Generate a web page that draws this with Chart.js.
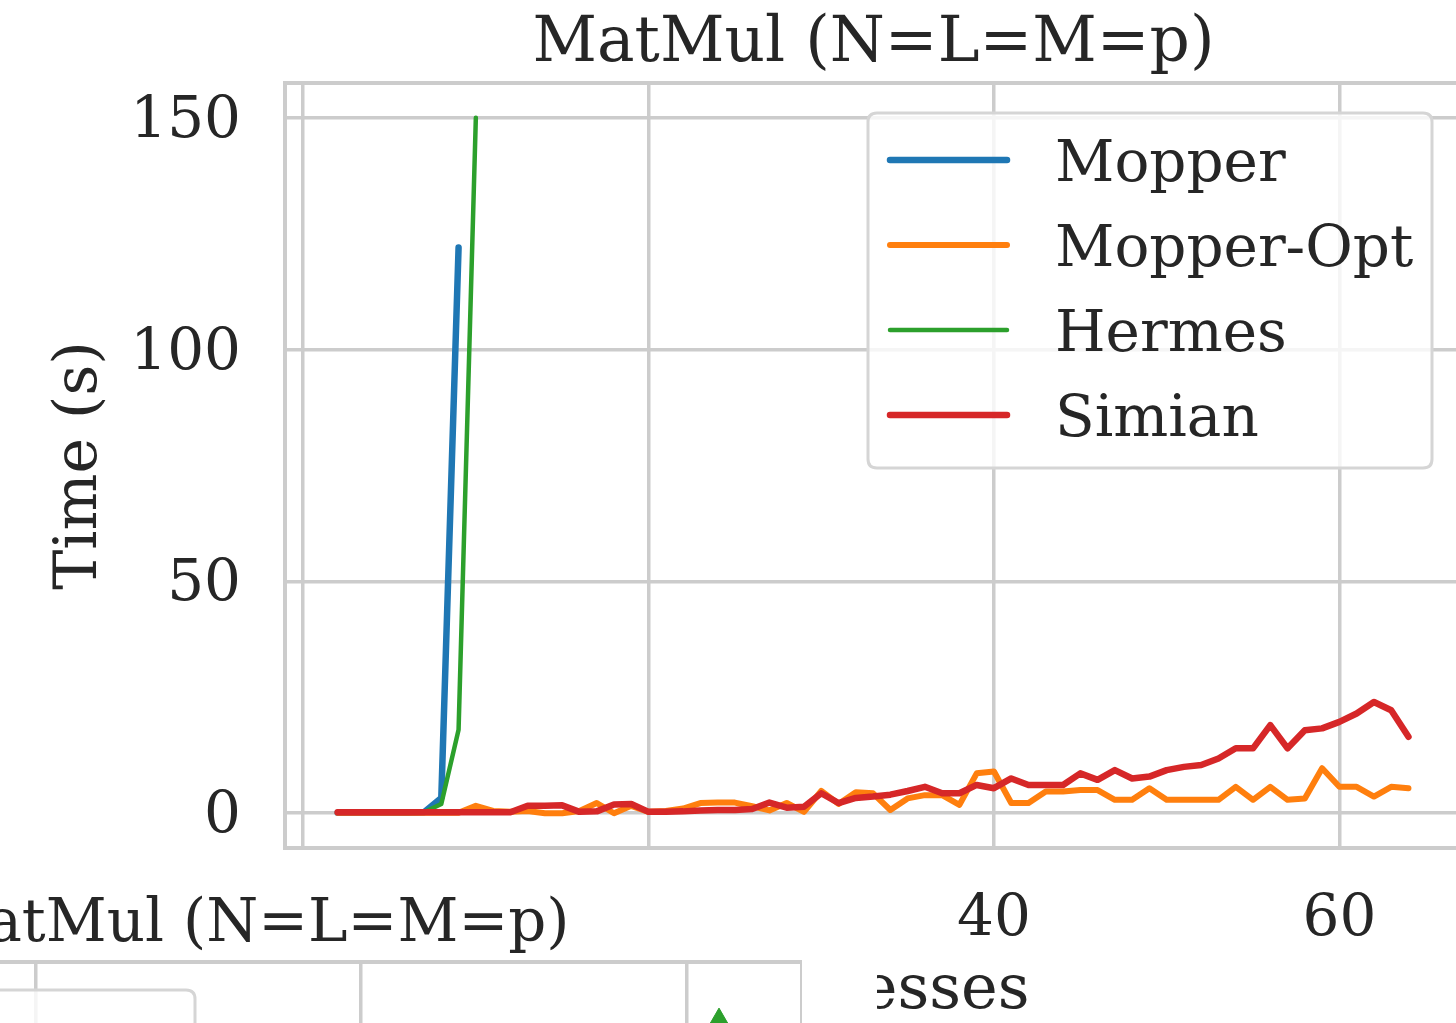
<!DOCTYPE html>
<html><head><meta charset="utf-8">
<script src="https://cdn.jsdelivr.net/npm/chart.js@4.4.1/dist/chart.umd.min.js"></script>
<style>
html,body{margin:0;padding:0;background:#fff;overflow:hidden;width:1456px;height:1023px;}
#main{position:absolute;left:0;top:0;}
#overlay{position:absolute;left:0;top:856px;width:877px;height:167px;background:#fff;overflow:hidden;}
#sub{position:absolute;left:-354px;top:0;}
</style></head><body>
<canvas id="main" width="1462" height="1023"></canvas>
<div id="overlay"><canvas id="sub" width="1156" height="1046"></canvas></div>
<script>
// ---------- data ----------
const chartTitle = 'MatMul (N=L=M=p)';
const xTitle = 'Processes';
const yTitle = 'Time (s)';
const xTicks = [0, 20, 40, 60];
const yTicks = [0, 50, 100, 150];
const seriesNames = ['Mopper', 'Mopper-Opt', 'Hermes', 'Simian'];
const processes = [2,3,4,5,6,7,8,9,10,11,12,13,14,15,16,17,18,19,20,21,22,23,24,25,26,27,28,29,30,31,32,33,34,35,36,37,38,39,40,41,42,43,44,45,46,47,48,49,50,51,52,53,54,55,56,57,58,59,60,61,62,63,64];
const mopper = [0.1,0.1,0.1,0.1,0.1,0.2,3.3,122];
const mopperOpt = [0.1,0.1,0.1,0.1,0.1,0.1,0.1,0.1,1.6,0.5,0.3,0.5,0.0,0.0,0.5,2.2,0.0,1.6,0.3,0.5,1.0,2.2,2.3,2.3,1.5,0.6,2.2,0.3,4.8,2.0,4.5,4.3,0.7,3.2,3.9,3.9,1.8,8.6,9.0,2.2,2.2,4.7,4.7,5.0,5.0,2.9,2.9,5.4,2.9,2.9,2.9,2.9,5.7,2.9,5.7,2.9,3.2,9.7,5.7,5.7,3.6,5.7,5.4];
const hermes = [0.1,0.1,0.1,0.1,0.1,0.2,2.0,18,150];
const simian = [0.2,0.2,0.2,0.2,0.2,0.2,0.2,0.2,0.2,0.2,0.2,1.6,1.6,1.7,0.3,0.4,1.9,2.0,0.3,0.3,0.4,0.6,0.7,0.7,0.9,2.3,1.2,1.4,4.3,2.2,3.3,3.6,4.0,4.8,5.7,4.3,4.3,6.1,5.4,7.5,6.1,6.1,6.1,8.6,7.2,9.3,7.5,7.9,9.3,10.0,10.4,11.8,14.0,14.0,19.0,14.0,17.9,18.3,19.7,21.5,24.0,22.2,16.5];
// partially visible second panel (only one marker visible)
const subXTicks = [0, 20, 40, 60];
const subYTicks = [0, 100, 200, 300];
const subHermesX = [62];
const subHermesY = [278];

// ---------- style ----------
const FONT = "'DejaVu Serif', 'Liberation Serif', serif";
const TXT = '#262626';
const GRID = '#cccccc';
const colors = ['#1f77b4', '#ff7f0e', '#2ca02c', '#d62728'];
const widths = [6.5, 6, 4.5, 6.5];
Chart.defaults.font.family = FONT;
Chart.defaults.color = TXT;

const toPts = (vals) => vals.map((v, i) => ({x: processes[i], y: v}));
const allSeries = [mopper, mopperOpt, hermes, simian];

const framePlugin = {
  id: 'frame',
  afterDatasetsDraw(chart) {
    const {ctx, chartArea: a} = chart;
    ctx.save();
    ctx.strokeStyle = GRID;
    ctx.lineWidth = 4;
    ctx.strokeRect(a.left, a.top, a.right - a.left, a.bottom - a.top);
    ctx.restore();
  }
};

function roundRect(ctx, x, y, w, h, r) {
  ctx.beginPath();
  ctx.moveTo(x + r, y);
  ctx.lineTo(x + w - r, y);
  ctx.quadraticCurveTo(x + w, y, x + w, y + r);
  ctx.lineTo(x + w, y + h - r);
  ctx.quadraticCurveTo(x + w, y + h, x + w - r, y + h);
  ctx.lineTo(x + r, y + h);
  ctx.quadraticCurveTo(x, y + h, x, y + h - r);
  ctx.lineTo(x, y + r);
  ctx.quadraticCurveTo(x, y, x + r, y);
  ctx.closePath();
}

const legendPlugin = {
  id: 'innerLegend',
  afterDraw(chart) {
    const {ctx, chartArea: a} = chart;
    const ds = chart.data.datasets;
    const boxL = 868, boxR = 1432, boxT = a.top + 30, rowH = 85;
    const boxH = 355;
    ctx.save();
    roundRect(ctx, boxL, boxT, boxR - boxL, boxH, 9);
    ctx.fillStyle = 'rgba(255,255,255,0.8)';
    ctx.fill();
    ctx.strokeStyle = '#d5d5d5';
    ctx.lineWidth = 3;
    ctx.stroke();
    ctx.font = '58px ' + FONT;
    ctx.textBaseline = 'middle';
    ctx.textAlign = 'left';
    ds.forEach((d, i) => {
      const y = boxT + 47 + i * rowH;
      ctx.strokeStyle = d.borderColor;
      ctx.lineWidth = d.borderWidth;
      ctx.lineCap = 'round';
      ctx.beginPath();
      ctx.moveTo(boxL + 22, y);
      ctx.lineTo(boxL + 139, y);
      ctx.stroke();
      ctx.fillStyle = TXT;
      ctx.fillText(d.label, boxL + 187, y + 6);
    });
    ctx.restore();
  }
};

new Chart(document.getElementById('main'), {
  type: 'line',
  data: {
    datasets: allSeries.map((vals, i) => ({
      label: seriesNames[i],
      data: toPts(vals),
      borderColor: colors[i],
      backgroundColor: colors[i],
      borderWidth: widths[i],
      pointRadius: 0,
      tension: 0,
      fill: false,
      borderJoinStyle: 'round',
      borderCapStyle: 'round',
      order: 4 - i
    }))
  },
  options: {
    responsive: false,
    animation: false,
    devicePixelRatio: 1,
    layout: {padding: 0, autoPadding: false},
    plugins: {
      legend: {display: false},
      tooltip: {enabled: false},
      title: {
        display: true, fullSize: false, text: chartTitle, color: TXT,
        font: {size: 63, weight: 'normal', family: FONT, lineHeight: 1.2},
        padding: {top: 7, bottom: 0.4}
      }
    },
    scales: {
      x: {
        type: 'linear', min: -1.05, max: 67.1,
        afterBuildTicks: s => { s.ticks = xTicks.map(v => ({value: v})); },
        afterFit: s => { s.height = 175; s.paddingLeft = 0; s.paddingRight = 0; },
        grid: {color: GRID, lineWidth: 3.5, drawTicks: false},
        border: {display: false},
        ticks: {color: TXT, font: {size: 58, family: FONT, lineHeight: 1}, padding: 43, maxRotation: 0, callback: v => String(v)},
        title: {display: true, text: xTitle, color: TXT, font: {size: 62, family: FONT, lineHeight: 1}, padding: {top: 0, bottom: 0}}
      },
      y: {
        type: 'linear', min: -7.5, max: 157.5,
        afterBuildTicks: s => { s.ticks = yTicks.map(v => ({value: v})); },
        afterFit: s => { s.width = 285; s.paddingTop = 0; s.paddingBottom = 0; },
        grid: {color: GRID, lineWidth: 3.5, drawTicks: false},
        border: {display: false},
        ticks: {color: TXT, font: {size: 58, family: FONT, lineHeight: 1}, padding: 44, labelOffset: 4, callback: v => String(v)},
        title: {display: true, text: yTitle, color: TXT, font: {size: 60, family: FONT, lineHeight: 1}, padding: {top: 50, bottom: 0}}
      }
    }
  },
  plugins: [framePlugin, legendPlugin]
});

// ---------- partially visible lower panel ----------
const subLegendPlugin = {
  id: 'subLegend',
  afterDraw(chart) {
    const {ctx, chartArea: a} = chart;
    ctx.save();
    roundRect(ctx, a.left + 20, a.top + 28, 502 - 20, 300, 9);
    ctx.fillStyle = 'rgba(255,255,255,0.8)';
    ctx.fill();
    ctx.strokeStyle = '#d5d5d5';
    ctx.lineWidth = 3;
    ctx.stroke();
    ctx.restore();
  }
};

new Chart(document.getElementById('sub'), {
  type: 'scatter',
  data: {
    datasets: [{
      label: 'Hermes',
      data: subHermesX.map((x, i) => ({x, y: subHermesY[i]})),
      borderColor: colors[2], backgroundColor: colors[2],
      pointStyle: 'triangle', pointRadius: 10, borderWidth: 1
    }]
  },
  options: {
    responsive: false,
    animation: false,
    devicePixelRatio: 1,
    layout: {padding: 0, autoPadding: false},
    plugins: {
      legend: {display: false},
      tooltip: {enabled: false},
      title: {
        display: true, fullSize: false, text: chartTitle, color: TXT,
        font: {size: 59.5, weight: 'normal', family: FONT, lineHeight: 1.2},
        padding: {top: 34.3, bottom: 0.3}
      }
    },
    scales: {
      x: {
        type: 'linear', min: -1.05, max: 67.1,
        afterBuildTicks: s => { s.ticks = subXTicks.map(v => ({value: v})); },
        afterFit: s => { s.height = 175; s.paddingLeft = 0; s.paddingRight = 0; },
        grid: {color: GRID, lineWidth: 3.5, drawTicks: false},
        border: {display: false},
        ticks: {color: TXT, font: {size: 58, family: FONT}, padding: 40, maxRotation: 0}
      },
      y: {
        type: 'linear', min: 0, max: 300,
        afterBuildTicks: s => { s.ticks = subYTicks.map(v => ({value: v})); },
        afterFit: s => { s.width = 47; s.paddingTop = 0; s.paddingBottom = 0; },
        grid: {color: GRID, lineWidth: 3.5, drawTicks: false},
        border: {display: false},
        ticks: {display: false}
      }
    }
  },
  plugins: [framePlugin, subLegendPlugin]
});
</script>
</body></html>
